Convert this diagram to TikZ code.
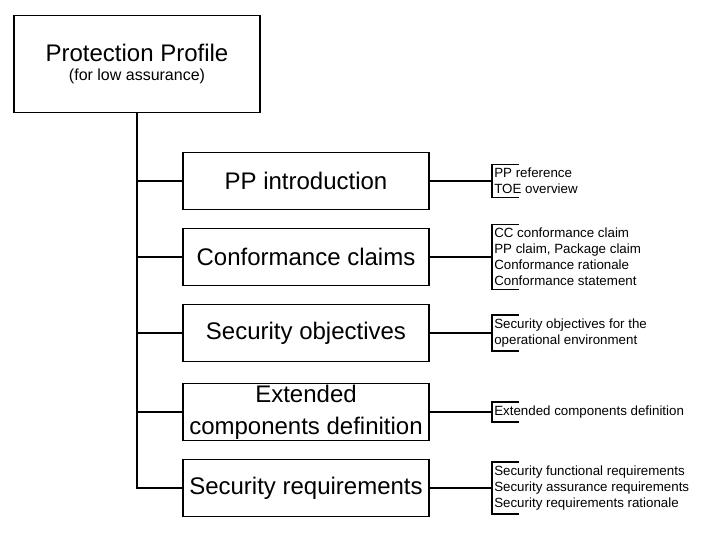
\documentclass[tikz,border=0pt]{standalone}
\usepackage{fontspec}
\setmainfont{Liberation Sans}
\begin{document}
\begin{tikzpicture}[x=0.75pt, y=-0.75pt,
    part/.style={draw, line width=1.2pt, minimum width=184.5pt, minimum height=42.75pt, align=center, font=\fontsize{18}{24}\selectfont, inner sep=1pt},
    note/.style={anchor=west, align=left, font=\fontsize{10}{12}\selectfont, inner xsep=1.5pt, inner ysep=2.5pt}]
    \useasboundingbox (0,0) rectangle (722,534);
    \node [draw, line width=1.2pt, minimum width=184.5pt, minimum height=72.75pt, align=center, font=\fontsize{18}{22}\selectfont] (pp) at (137,64)
        {Protection Profile\\[-8pt]{\fontsize{12}{14}\selectfont (for low assurance)}};
    \node [part] (intro) at (306,181) {PP introduction};
    \node [part] (claims) at (306,257) {Conformance claims};
    \node [part] (obj) at (306,333) {Security objectives};
    \node [part] (ext) at (306,412) {Extended\\components definition};
    \node [part] (req) at (306,488) {Security requirements};
    \node [note] (introNote) at (492,181) {PP reference\\TOE overview};
    \node [note] (claimsNote) at (492,257) {CC conformance claim\\PP claim, Package claim\\Conformance rationale\\Conformance statement};
    \node [note] (objNote) at (492,333) {Security objectives for the\\operational environment};
    \node [note] (extNote) at (492,412) {Extended components definition};
    \node [note] (reqNote) at (492,488) {Security functional requirements\\Security assurance requirements\\Security requirements rationale};
    \draw [line width=2pt] (pp.south) |- (req.west);
    \foreach \p in {intro, claims, obj, ext}
        \draw [line width=1pt] (pp.south |- \p.west) -- (\p.west);
    \foreach \p in {intro, claims, obj, ext, req} {
        \draw [line width=0.9pt] (\p.east) -- (\p Note.west);
        \draw [line width=1.2pt] ([xshift=20pt]\p Note.north west) -- (\p Note.north west) -- (\p Note.south west) -- ++(20pt,0);
    }
\end{tikzpicture}
\end{document}
